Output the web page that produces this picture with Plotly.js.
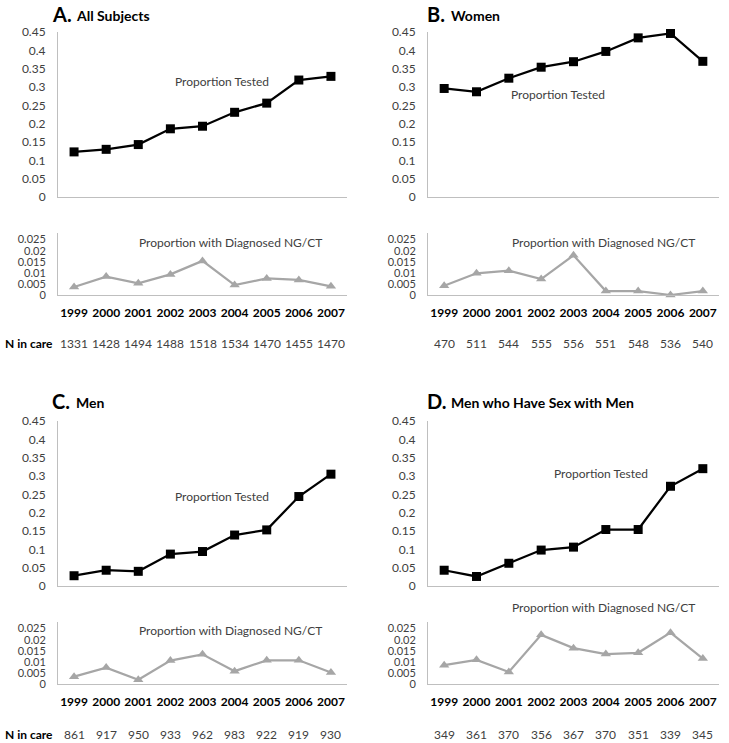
<!DOCTYPE html>
<html>
<head>
<meta charset="utf-8">
<script src="https://cdn.plot.ly/plotly-3.0.1.min.js"></script>
<style>
  html, body { margin: 0; padding: 0; background: #fff; }
  #chart { width: 729px; height: 743px; }
</style>
</head>
<body>
<div id="chart"></div>
<script>
// --- data ---
const years = ['1999', '2000', '2001', '2002', '2003', '2004', '2005', '2006', '2007'];

const testedAll = [0.123, 0.130, 0.143, 0.186, 0.193, 0.231, 0.256, 0.319, 0.329];
const diagAll = [0.0036, 0.0083, 0.0053, 0.0093, 0.0154, 0.0045, 0.0075, 0.0068, 0.0039];
const nAll = [1331, 1428, 1494, 1488, 1518, 1534, 1470, 1455, 1470];

const testedWomen = [0.296, 0.287, 0.324, 0.354, 0.369, 0.397, 0.434, 0.446, 0.370];
const diagWomen = [0.0042, 0.0098, 0.0110, 0.0072, 0.0179, 0.0018, 0.0018, 0.0, 0.0018];
const nWomen = [470, 511, 544, 555, 556, 551, 548, 536, 540];

const testedMen = [0.028, 0.043, 0.040, 0.087, 0.094, 0.139, 0.153, 0.244, 0.305];
const diagMen = [0.0033, 0.0074, 0.0019, 0.0106, 0.0134, 0.0058, 0.0107, 0.0107, 0.0052];
const nMen = [861, 917, 950, 933, 962, 983, 922, 919, 930];

const testedMsm = [0.043, 0.026, 0.062, 0.098, 0.106, 0.154, 0.154, 0.272, 0.320];
const diagMsm = [0.0085, 0.0109, 0.0054, 0.0222, 0.0162, 0.0135, 0.0141, 0.0232, 0.0115];
const nMsm = [349, 361, 370, 356, 367, 370, 351, 339, 345];

const testedTicks = [0, 0.05, 0.1, 0.15, 0.2, 0.25, 0.3, 0.35, 0.4, 0.45];
const testedTickText = ['0', '0.05', '0.1', '0.15', '0.2', '0.25', '0.3', '0.35', '0.4', '0.45'];
const diagTicks = [0, 0.005, 0.01, 0.015, 0.02, 0.025];
const diagTickText = ['0', '0.005', '0.01', '0.015', '0.02', '0.025'];

const panelLetters = ['A.', 'B.', 'C.', 'D.'];
const panelNames = ['All Subjects', 'Women', 'Men', 'Men who Have Sex with Men'];
const testedLabel = 'Proportion Tested';
const diagLabel = 'Proportion with Diagnosed NG/CT';
const nLabel = 'N in care';

// --- page geometry (pixels) ---
const W = 729, H = 743;
const FONT = 'Lato, "Open Sans", sans-serif';
const px = x => x / W;
const py = y => 1 - y / H;

const panels = [
  { tested: testedAll, diag: diagAll, n: nAll, x0: 58, x1: 347, top: [32, 197], bot: [233, 295],
    nY: 343, testedAt: [222, 82], diagAt: [230, 242], title: [50, 14] },
  { tested: testedWomen, diag: diagWomen, n: nWomen, x0: 428, x1: 719, top: [32, 197], bot: [233, 295],
    nY: 343, testedAt: [558, 94], diagAt: [603, 242], title: [425, 14] },
  { tested: testedMen, diag: diagMen, n: nMen, x0: 58, x1: 347, top: [421, 586], bot: [622, 684],
    nY: 734, testedAt: [222, 496], diagAt: [230, 630], title: [50, 401] },
  { tested: testedMsm, diag: diagMsm, n: nMsm, x0: 428, x1: 719, top: [421, 586], bot: [622, 684],
    nY: 734, testedAt: [601, 473], diagAt: [603, 607], title: [425, 401] },
];

const traces = [];
const annotations = [];
const layout = {
  width: W, height: H,
  margin: { t: 0, r: 0, b: 0, l: 0 },
  paper_bgcolor: '#fff', plot_bgcolor: '#fff',
  showlegend: false,
  font: { family: FONT, size: 12, color: '#404040' },
};

const axisLine = '#bfbfbf';

panels.forEach((p, i) => {
  const tIdx = i * 2 + 1, dIdx = i * 2 + 2;
  const xa = 'x' + tIdx, xb = 'x' + dIdx;
  const ya = 'y' + tIdx, yb = 'y' + dIdx;

  traces.push({
    x: years, y: p.tested, xaxis: xa, yaxis: ya,
    type: 'scatter', mode: 'lines+markers', cliponaxis: false,
    line: { color: '#000', width: 2.25 },
    marker: { symbol: 'square', size: 9, color: '#000' },
  });
  traces.push({
    x: years, y: p.diag, xaxis: xb, yaxis: yb,
    type: 'scatter', mode: 'lines+markers', cliponaxis: false,
    line: { color: '#a6a6a6', width: 2.25 },
    marker: { symbol: 'triangle-up', size: 9, color: '#a6a6a6' },
  });

  const xBase = {
    type: 'category', range: [-0.5, 8.5], domain: [px(p.x0), px(p.x1)],
    showline: true, linecolor: axisLine, linewidth: 1,
    showgrid: false, zeroline: false, ticks: '', fixedrange: true,
  };
  layout['xaxis' + tIdx] = { ...xBase, anchor: ya, showticklabels: false };
  layout['xaxis' + dIdx] = {
    ...xBase, anchor: yb, showticklabels: true,
    tickvals: years, ticktext: years.map(y => `<b>${y}</b>`),
    tickfont: { family: FONT, size: 12, color: '#000' },
    ticklabelstandoff: 7,
  };

  const yBase = {
    showline: true, linecolor: axisLine, linewidth: 1,
    showgrid: false, zeroline: false, ticks: '', fixedrange: true,
    ticklabelstandoff: 9,
  };
  layout['yaxis' + tIdx] = {
    ...yBase, anchor: xa, range: [0, 0.45],
    domain: [py(p.top[1]), py(p.top[0])],
    tickvals: testedTicks, ticktext: testedTickText,
    tickfont: { family: FONT, size: 12, color: '#404040' },
  };
  layout['yaxis' + dIdx] = {
    ...yBase, anchor: xb, range: [0, 0.028],
    domain: [py(p.bot[1]), py(p.bot[0])],
    tickvals: diagTicks, ticktext: diagTickText,
    tickfont: { family: FONT, size: 11, color: '#404040' },
  };

  // panel titles
  annotations.push({
    xref: 'paper', yref: 'paper', x: px(p.title[0]), y: py(p.title[1]),
    xanchor: 'left', yanchor: 'middle', showarrow: false,
    text: `<b>${panelLetters[i]}</b>`, font: { family: FONT, size: 20, color: '#000' },
  });
  annotations.push({
    xref: 'paper', yref: 'paper', x: px(p.title[0] + 24), y: py(p.title[1] + 1),
    xanchor: 'left', yanchor: 'middle', showarrow: false,
    text: `<b>${panelNames[i]}</b>`, font: { family: FONT, size: 14, color: '#000' },
  });

  // series labels
  annotations.push({
    xref: 'paper', yref: 'paper', x: px(p.testedAt[0]), y: py(p.testedAt[1]),
    xanchor: 'center', yanchor: 'middle', showarrow: false,
    text: testedLabel, font: { family: FONT, size: 12, color: '#404040' },
  });
  annotations.push({
    xref: 'paper', yref: 'paper', x: px(p.diagAt[0]), y: py(p.diagAt[1]),
    xanchor: 'center', yanchor: 'middle', showarrow: false,
    text: diagLabel, font: { family: FONT, size: 12, color: '#404040' },
  });

  // N in care row, placed on the category axis by index
  p.n.forEach((v, k) => {
    annotations.push({
      xref: xb, yref: 'paper', x: k, y: py(p.nY),
      xanchor: 'center', yanchor: 'middle', showarrow: false,
      text: String(v), font: { family: FONT, size: 12, color: '#404040' },
    });
  });
  if (i % 2 === 0) {
    annotations.push({
      xref: 'paper', yref: 'paper', x: px(3), y: py(p.nY),
      xanchor: 'left', yanchor: 'middle', showarrow: false,
      text: `<b>${nLabel}</b>`, font: { family: FONT, size: 12, color: '#000' },
    });
  }
});

layout.annotations = annotations;

Plotly.newPlot('chart', traces, layout, { displayModeBar: false, staticPlot: true });
</script>
</body>
</html>
